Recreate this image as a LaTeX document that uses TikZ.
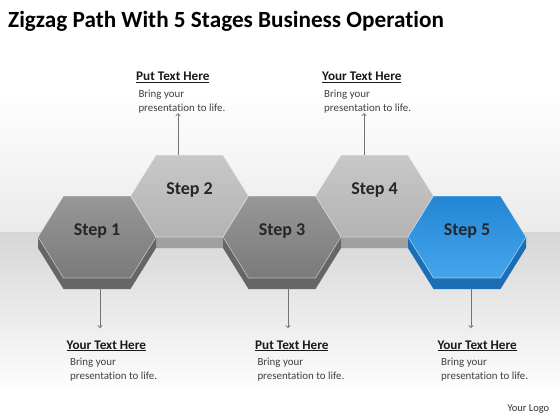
\documentclass[tikz,border=0pt]{standalone}
\usepackage{fontspec}
\setmainfont{Carlito}[Ligatures=NoCommon]
\usepackage{tikz}
\usetikzlibrary{arrows.meta}
\definecolor{darkTop}{HTML}{979797}
\definecolor{darkBot}{HTML}{7A7A7A}
\definecolor{darkSide}{HTML}{666666}
\definecolor{lightTop}{HTML}{C8C8C8}
\definecolor{lightBot}{HTML}{B3B3B3}
\definecolor{lightSide}{HTML}{A0A0A0}
\definecolor{blueTop}{HTML}{2386D5}
\definecolor{blueBot}{HTML}{45A6EC}
\definecolor{blueSide}{HTML}{1B6DB5}
\tikzset{head/.style={anchor=base west,inner sep=0pt,font=\fontsize{13.2}{15}\selectfont\bfseries,text=black!90},
  body/.style={anchor=north west,inner sep=0pt,align=left,font=\fontsize{10.9}{14}\selectfont,text=black!75},
  steptext/.style={font=\fontsize{18}{20}\selectfont\bfseries,text=black!85},
  arr/.style={draw=black!55,line width=0.7pt,-{To[length=3pt,width=5pt]}},}

\begin{document}
\begin{tikzpicture}[x=1pt,y=-1pt]
	\useasboundingbox (0,0) rectangle (560,420);
	% background
	\fill[white] (0,0) rectangle (560,420);
	\shade[top color=white,bottom color=black!8] (0,90) rectangle (560,232);
	\shade[top color=black!16,bottom color=white] (0,232) rectangle (560,395);

	\node[anchor=base west,inner sep=0pt,font=\fontsize{23.2}{27}\selectfont\bfseries] (title) at (8,27.3) {Zigzag Path With 5 Stages Business Operation};

	% hexagons, back row first
	\foreach \n/\x/\y/\ctop/\cbot/\cside in {2/189.5/196/lightTop/lightBot/lightSide,4/374.5/196/lightTop/lightBot/lightSide,1/97/237/darkTop/darkBot/darkSide,3/282/237/darkTop/darkBot/darkSide,5/467/237/blueTop/blueBot/blueSide}{
		\begin{scope}[shift={(\x,\y)}]
			\fill[\cside] (-59,0) -- (-59,11) -- (-33.5,52) -- (33.5,52) -- (59,11) -- (59,0) -- (33.5,41) -- (-33.5,41) -- cycle;
			\shade[top color=\ctop,bottom color=\cbot,draw=white,draw opacity=0.5,line width=0.6pt] (-59,0) -- (-33.5,-41) -- (33.5,-41) -- (59,0) -- (33.5,41) -- (-33.5,41) -- cycle;
			\node[steptext] (s\n) at (0,-6) {Step \n};
		\end{scope}
	}

	% top texts
	\node[head] (h2) at (136,80.7) {\underline{Put Text Here}};
	\node[body] (b2) at (138.3,89.5) {Bring your\\presentation to life.};
	\node[head] (h4) at (322,80.7) {\underline{Your Text Here}};
	\node[body] (b4) at (324,89.5) {Bring your\\presentation to life.};

	% bottom texts
	\node[head] (h1) at (66.5,349) {\underline{Your Text Here}};
	\node[body] (b1) at (70,358) {Bring your\\presentation to life.};
	\node[head] (h3) at (255,349) {\underline{Put Text Here}};
	\node[body] (b3) at (257.3,358) {Bring your\\presentation to life.};
	\node[head] (h5) at (437.3,349) {\underline{Your Text Here}};
	\node[body] (b5) at (441,358) {Bring your\\presentation to life.};

	\node[anchor=base west,inner sep=0pt,font=\fontsize{10.5}{12}\selectfont,text=black!80] (logo) at (507.3,411) {Your Logo};

	% arrows
	\coordinate (p2) at (178,155);
	\coordinate (p4) at (364,155);
	\coordinate (p1) at (100,288);
	\coordinate (p3) at (288,288);
	\coordinate (p5) at (471,288);
	\coordinate (e1) at (100,328);
	\coordinate (e3) at (288,328);
	\coordinate (e5) at (471,328);
	\draw[arr] (p2) -- (p2 |- b2.south);
	\draw[arr] (p4) -- (p4 |- b4.south);
	\draw[arr] (p1) -- (e1);
	\draw[arr] (p3) -- (e3);
	\draw[arr] (p5) -- (e5);
\end{tikzpicture}
\end{document}
